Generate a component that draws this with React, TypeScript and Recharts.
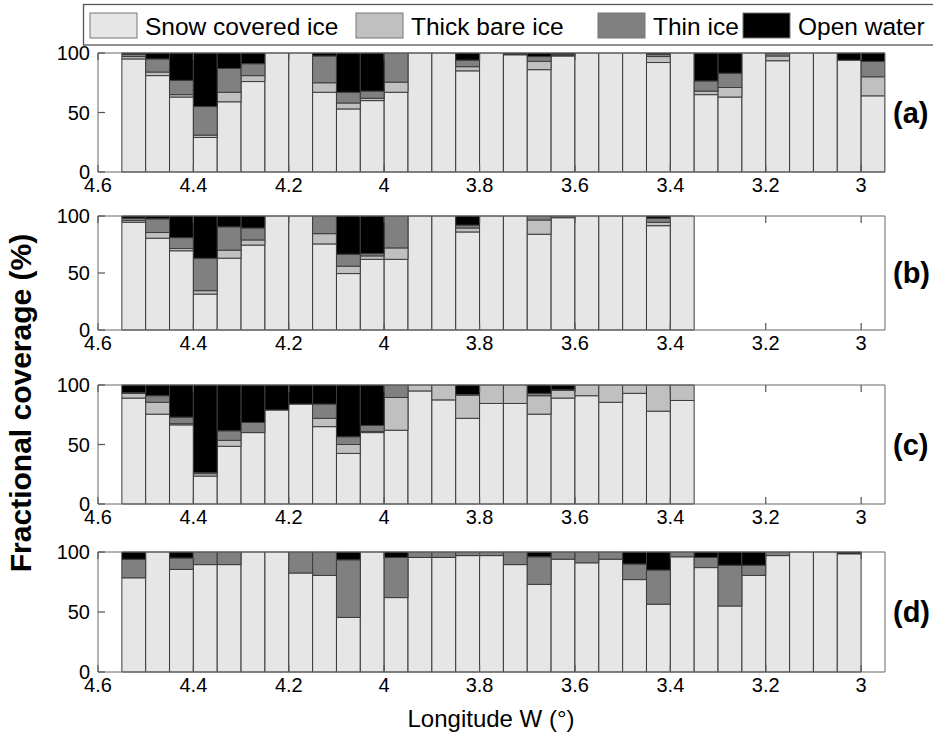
import React from "react";
import { BarChart, Bar, XAxis, YAxis } from "recharts";

// bar centres, longitude W (deg), 0.05 deg bins
const LONGITUDE = [
  4.525, 4.475, 4.425, 4.375, 4.325, 4.275, 4.225, 4.175, 4.125, 4.075, 4.025,
  3.975, 3.925, 3.875, 3.825, 3.775, 3.725, 3.675, 3.625, 3.575, 3.525, 3.475,
  3.425, 3.375, 3.325, 3.275, 3.225, 3.175, 3.125, 3.075, 3.025, 2.975,
];
const X_TICKS = [4.6, 4.4, 4.2, 4, 3.8, 3.6, 3.4, 3.2, 3];
const Y_TICKS = [0, 50, 100];

// (a)
const A_SNOW = [95, 81, 63, 29, 59, 76, 100, 100, 67, 53, 60, 67, 100, 100, 85, 100, 98.5, 86, 97.5, 100, 100, 100, 92, 100, 65, 63, 100, 93.5, 100, 100, 94, 64];
const A_THICK = [2, 3, 2, 2, 8, 5, 0, 0, 8, 5, 2, 8.5, 0, 0, 3.5, 0, 0, 7, 0.5, 0, 0, 0, 5, 0, 3, 8, 0, 4, 0, 0, 0, 16];
const A_THIN = [2, 11, 12, 24, 20, 10, 0, 0, 22.5, 9, 6, 24.5, 0, 0, 5.5, 0, 0.5, 4, 1, 0, 0, 0, 2, 0, 8.5, 12, 0, 2, 0, 0, 0, 13];
const A_WATER = [1, 5, 23, 45, 13, 9, 0, 0, 2.5, 33, 32, 0, 0, 0, 6, 0, 1, 3, 1, 0, 0, 0, 1, 0, 23.5, 17, 0, 0.5, 0, 0, 6, 7];

// (b)
const B_SNOW = [94.5, 80.5, 69.5, 31.5, 63, 74.5, 100, 100, 75.5, 49.5, 62, 62, 100, 100, 86, 100, 100, 84, 98.5, 100, 100, 100, 91.5, 100];
const B_THICK = [1.5, 5, 2, 3, 7, 4.5, 0, 0, 9, 6.5, 3, 10, 0, 0, 3.5, 0, 0, 12.5, 0, 0, 0, 0, 3, 0];
const B_THIN = [2, 12, 9.5, 28.5, 20.5, 10.5, 0, 0, 15.5, 10.5, 2, 28, 0, 0, 2.5, 0, 0, 3.5, 1.5, 0, 0, 0, 3.5, 0];
const B_WATER = [2, 2.5, 19, 37, 9.5, 10.5, 0, 0, 0, 33.5, 33, 0, 0, 0, 8, 0, 0, 0, 0, 0, 0, 0, 2, 0];

// (c)
const C_SNOW = [89, 75.5, 66.5, 23.5, 48.5, 60, 79, 84, 65, 42.5, 60, 62, 95, 87.5, 72, 84.5, 84.5, 75.5, 89, 91, 85.5, 93, 78, 87];
const C_THICK = [4, 10, 1, 2, 5, 0, 0, 0, 7, 7.5, 1, 27.5, 5, 12.5, 19.5, 15.5, 15.5, 15.5, 6.5, 9, 14.5, 7, 22, 13];
const C_THIN = [0.5, 5.5, 5.5, 1, 8, 8.5, 0, 0, 12, 6.5, 5, 10.5, 0, 0, 0.5, 0, 0, 2, 0.5, 0, 0, 0, 0, 0];
const C_WATER = [6.5, 9, 27, 73.5, 38.5, 31.5, 21, 16, 16, 43.5, 34, 0, 0, 0, 8, 0, 0, 7, 4, 0, 0, 0, 0, 0];

// (d)
const D_SNOW = [78.5, 100, 85.5, 89.5, 89.5, 100, 100, 82.5, 80.5, 45.5, 100, 62, 95.5, 95.5, 97, 97, 89.5, 73, 94, 91, 94, 77, 56.5, 96, 87, 55, 80.5, 97, 100, 100, 98.5];
const D_THICK = [0, 0, 0, 0, 0, 0, 0, 0, 0, 0, 0, 0, 0, 0, 0, 0, 0, 0, 0, 0, 0, 0, 0, 0, 0, 0, 0, 0, 0, 0, 0];
const D_THIN = [15.5, 0, 9.5, 10.5, 10.5, 0, 0, 17.5, 19.5, 48, 0, 33.5, 4.5, 4.5, 3, 3, 10.5, 23, 6, 9, 6, 13, 28.5, 4, 8.5, 34, 8.5, 3, 0, 0, 0];
const D_WATER = [6, 0, 5, 0, 0, 0, 0, 0, 0, 6.5, 0, 4.5, 0, 0, 0, 0, 0, 4, 0, 0, 0, 10, 15, 0, 4.5, 11, 11, 0, 0, 0, 1.5];

const SERIES = [
  { key: "snow", name: "Snow covered ice", color: "#e6e6e6" },
  { key: "thick", name: "Thick bare ice", color: "#c0c0c0" },
  { key: "thin", name: "Thin ice", color: "#808080" },
  { key: "water", name: "Open water", color: "#000000" },
];

const FONT = "'Liberation Sans', Arial, Helvetica, sans-serif";
const AXIS = "#666";
const TICK_COLOR = "#555";
const TICK_LEN = 7;

const PANELS = [
  { label: "(a)", snow: A_SNOW, thick: A_THICK, thin: A_THIN, water: A_WATER, top: 53, height: 119, rightTick: false },
  { label: "(b)", snow: B_SNOW, thick: B_THICK, thin: B_THIN, water: B_WATER, top: 216, height: 114, rightTick: true },
  { label: "(c)", snow: C_SNOW, thick: C_THICK, thin: C_THIN, water: C_WATER, top: 385, height: 119, rightTick: true },
  { label: "(d)", snow: D_SNOW, thick: D_THICK, thin: D_THIN, water: D_WATER, top: 552, height: 120, rightTick: true },
];

const LEGEND_X = [90, 356, 598, 743];

// x label, plus the inward mark on the top edge of the box
const makeBottomTick = (plotH: number) =>
  function BottomTick({ x, y, payload }: any) {
    const base = y - 5;
    return (
      <g>
        <rect x={x - 0.6} y={base - plotH} width={1.2} height={TICK_LEN} fill={TICK_COLOR} />
        <text x={x} y={y} dy="0.75em" textAnchor="middle" fontSize={20} fontFamily={FONT} fill="#000">
          {String(payload.value)}
        </text>
      </g>
    );
  };

function LeftTick({ x, y, payload }: any) {
  return (
    <g>
      <rect x={x + 8} y={y - 0.6} width={TICK_LEN} height={1.2} fill={TICK_COLOR} />
      <text x={x} y={y} dy="0.36em" textAnchor="end" fontSize={20} fontFamily={FONT} fill="#000">
        {String(payload.value)}
      </text>
    </g>
  );
}

function RightTick({ x, y }: any) {
  return <rect x={x - TICK_LEN} y={y - 0.6} width={TICK_LEN} height={1.2} fill={TICK_COLOR} />;
}

function Panel({ p }: { p: (typeof PANELS)[number] }) {
  const mTop = 12;
  const topAxisH = 1;
  const bottomAxisH = 30;
  const rows = p.snow.map((s, i) => ({
    lon: LONGITUDE[i],
    snow: s,
    thick: p.thick[i],
    thin: p.thin[i],
    water: p.water[i],
  }));
  const axisLine = { stroke: AXIS, strokeWidth: 1 };
  const BottomTick = makeBottomTick(p.height);
  return (
    <div style={{ position: "absolute", left: 0, top: p.top - mTop - topAxisH }}>
      <BarChart
        width={933}
        height={mTop + topAxisH + p.height + bottomAxisH}
        data={rows}
        margin={{ top: mTop, right: 47, bottom: 0, left: 38 }}
        barGap={0}
        barCategoryGap={0}
      >
        <XAxis
          dataKey="lon"
          type="number"
          domain={[2.95, 4.6]}
          reversed
          allowDataOverflow
          ticks={X_TICKS}
          interval={0}
          tickLine={{ stroke: TICK_COLOR, strokeWidth: 1.2 }}
          tickSize={-TICK_LEN}
          tickMargin={TICK_LEN + 5}
          height={bottomAxisH}
          axisLine={axisLine}
          tick={BottomTick}
        />
        <XAxis
          xAxisId="top"
          orientation="top"
          type="number"
          domain={[2.95, 4.6]}
          reversed
          allowDataOverflow
          tickLine={false}
          height={topAxisH}
          axisLine={axisLine}
          tick={false}
        />
        <YAxis
          type="number"
          domain={[0, 100]}
          ticks={Y_TICKS}
          interval={0}
          width={60}
          tickLine={false}
          tickSize={0}
          tickMargin={8}
          axisLine={axisLine}
          tick={LeftTick}
        />
        <YAxis
          yAxisId="right"
          orientation="right"
          type="number"
          domain={[0, 100]}
          ticks={Y_TICKS}
          interval={0}
          width={1}
          tickLine={false}
          tickSize={0}
          tickMargin={0}
          axisLine={axisLine}
          tick={p.rightTick ? RightTick : false}
        />
        {SERIES.map((s) => (
          <Bar
            key={s.key}
            dataKey={s.key}
            name={s.name}
            stackId="cover"
            fill={s.color}
            stroke="#3c3c3c"
            strokeWidth={1}
            barSize={23.8}
            isAnimationActive={false}
          />
        ))}
      </BarChart>
    </div>
  );
}

export default function App() {
  return (
    <div style={{ position: "absolute", left: 0, top: 0, width: 933, height: 735, background: "#fff", fontFamily: FONT }}>
      {PANELS.map((p) => (
        <Panel key={p.label} p={p} />
      ))}
      <svg width={933} height={735} style={{ position: "absolute", left: 0, top: 0, pointerEvents: "none" }}>
        <rect x={83.5} y={4.5} width={860} height={40.5} fill="none" stroke="#555" strokeWidth={1.3} />
        {SERIES.map((s, i) => (
          <g key={s.key}>
            <rect x={LEGEND_X[i]} y={13} width={47} height={25} fill={s.color} stroke="#777" />
            <text x={LEGEND_X[i] + 55} y={34.5} fontSize={24.5} fontFamily={FONT} fill="#000">
              {s.name}
            </text>
          </g>
        ))}
        <text
          transform="translate(31,403) rotate(-90)"
          textAnchor="middle"
          fontSize={30}
          fontWeight="bold"
          fontFamily={FONT}
          fill="#000"
        >
          Fractional coverage (%)
        </text>
        {PANELS.map((p) => (
          <text
            key={p.label}
            x={893}
            y={p.top + p.height / 2}
            dy="0.35em"
            fontSize={29}
            fontWeight="bold"
            fontFamily={FONT}
            fill="#000"
          >
            {p.label}
          </text>
        ))}
        <text x={491} y={727} textAnchor="middle" fontSize={24} fontFamily={FONT} fill="#000">
          Longitude W (°)
        </text>
      </svg>
    </div>
  );
}
